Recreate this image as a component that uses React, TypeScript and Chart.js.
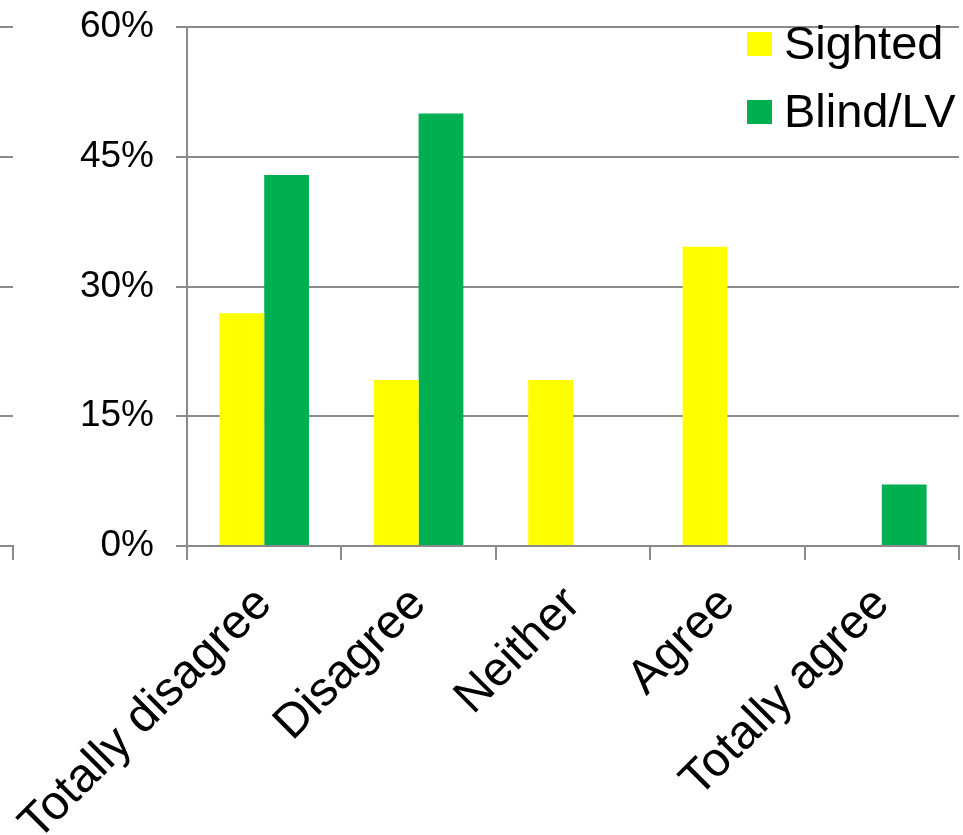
import React, { useEffect, useRef } from "react";
import { Chart, registerables } from "chart.js";

Chart.register(...registerables);

// Survey answers, percentage of respondents per group
const categories = ["Totally disagree", "Disagree", "Neither", "Agree", "Totally agree"];
const sighted = [26.9, 19.2, 19.2, 34.6, 0];
const blindLV = [42.9, 50.0, 0, 0, 7.1];
const seriesNames = ["Sighted", "Blind/LV"];
const seriesColors = ["#FFFF00", "#00B050"];
const yMin = 0;
const yMax = 60;
const yStep = 15;

const FONT = "'Liberation Sans', Arial, Helvetica, sans-serif";
const GRID = "#8a8a8a";
const W = 963;
const H = 835;

// Legend stacked vertically in the top-right corner of the plot area
const insideLegend = {
  id: "insideLegend",
  afterDraw(chart: any) {
    const { ctx, chartArea } = chart;
    ctx.save();
    ctx.font = `47px ${FONT}`;
    ctx.textBaseline = "alphabetic";
    ctx.textAlign = "left";
    chart.data.datasets.forEach((ds: any, i: number) => {
      const top = chartArea.top + 5 + i * 68;
      ctx.fillStyle = ds.backgroundColor;
      ctx.fillRect(chartArea.right - 212, top, 25, 24);
      ctx.fillStyle = "#000";
      ctx.fillText(ds.label, chartArea.right - 175, top + 27);
    });
    ctx.restore();
  },
};

function buildConfig(withData: boolean): any {
  return {
    type: "bar",
    data: {
      labels: categories,
      datasets: withData
        ? [
            { label: seriesNames[0], data: sighted, backgroundColor: seriesColors[0] },
            { label: seriesNames[1], data: blindLV, backgroundColor: seriesColors[1] },
          ]
        : [],
    },
    options: {
      responsive: false,
      animation: false,
      layout: { padding: { top: 27, right: 4, left: 0, bottom: 0 } },
      datasets: { bar: { categoryPercentage: 0.58, barPercentage: 1.0, borderWidth: 0 } },
      plugins: { legend: { display: false }, tooltip: { enabled: false } },
      scales: {
        x: {
          grid: {
            display: true,
            drawOnChartArea: false,
            drawTicks: true,
            tickLength: 14,
            color: GRID,
            lineWidth: 2,
            offset: true,
          },
          border: { display: true, color: GRID, width: 2 },
          ticks: {
            autoSkip: false,
            minRotation: 45,
            maxRotation: 45,
            padding: 16,
            color: "#000",
            font: { family: FONT, size: 48 },
          },
          afterFit(scale: any) {
            scale.height = 289;
            scale.paddingLeft = 0;
            scale.paddingRight = 0;
          },
        },
        y: {
          min: yMin,
          max: yMax,
          grid: { color: GRID, lineWidth: 2, tickLength: 11, drawTicks: true },
          border: { display: true, color: GRID, width: 2 },
          ticks: {
            stepSize: yStep,
            padding: 22,
            color: "#000",
            font: { family: FONT, size: 37 },
            callback: (v: number) => `${v}%`,
          },
          afterFit(scale: any) {
            scale.width = 187;
            scale.paddingTop = 0;
            scale.paddingBottom = 0;
          },
        },
      },
    },
    plugins: withData ? [insideLegend] : [],
  };
}

export default function App() {
  const mainRef = useRef<HTMLCanvasElement>(null);
  const sideRef = useRef<HTMLCanvasElement>(null);

  useEffect(() => {
    document.body.style.margin = "0";
    const side = new Chart(sideRef.current!, buildConfig(false));
    const main = new Chart(mainRef.current!, buildConfig(true));
    return () => {
      main.destroy();
      side.destroy();
    };
  }, []);

  return (
    <div style={{ position: "relative", width: W, height: H, overflow: "hidden", background: "#fff" }}>
      <canvas
        ref={sideRef}
        width={W}
        height={H}
        style={{ position: "absolute", left: 13 - (W - 4), top: 0 }}
      />
      <canvas ref={mainRef} width={W} height={H} style={{ position: "absolute", left: 0, top: 0 }} />
    </div>
  );
}
